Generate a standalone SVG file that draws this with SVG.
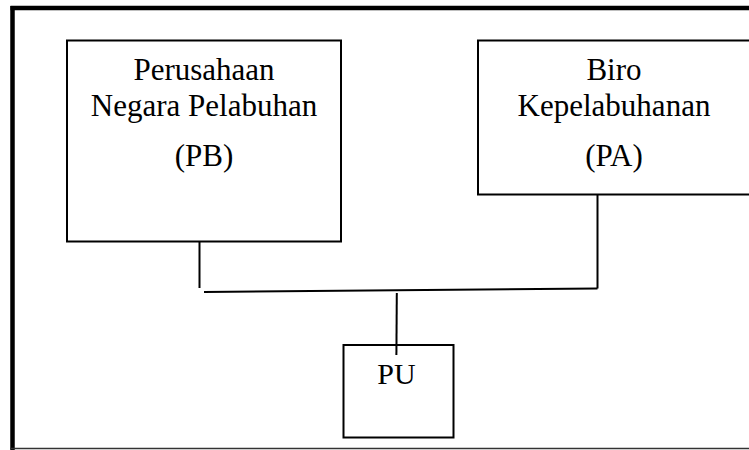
<svg xmlns="http://www.w3.org/2000/svg" width="749" height="450" viewBox="0 0 749 450">
  <style>
    .box { fill: #ffffff; stroke: #000000; stroke-width: 2; }
    .lbl { font-family: "Liberation Serif", "Times New Roman", serif; font-size: 31px; fill: #000000; text-anchor: middle; }
    .con { stroke: #000000; stroke-width: 2; fill: none; }
  </style>
  <rect x="0" y="0" width="749" height="450" fill="#ffffff"/>
  <g id="frame">
    <line x1="10.5" y1="8" x2="749" y2="8" stroke="#000000" stroke-width="4.5"/>
    <line x1="12.5" y1="6" x2="12.5" y2="450" stroke="#000000" stroke-width="4.5"/>
    <line x1="10" y1="448.5" x2="749" y2="448.5" stroke="#333333" stroke-width="1.5"/>
  </g>
  <g id="node-pb">
    <rect class="box" x="67" y="40.5" width="274" height="201"/>
    <text class="lbl" x="204" y="80">Perusahaan</text>
    <text class="lbl" x="204" y="116">Negara Pelabuhan</text>
    <text class="lbl" x="204" y="166">(PB)</text>
  </g>
  <g id="node-pa">
    <rect class="box" x="478" y="40.5" width="274" height="154"/>
    <text class="lbl" x="614" y="80">Biro</text>
    <text class="lbl" x="614" y="116">Kepelabuhanan</text>
    <text class="lbl" x="614" y="166">(PA)</text>
  </g>
  <g id="node-pu">
    <rect class="box" x="343.5" y="345" width="110" height="92.5"/>
    <text class="lbl" x="396.5" y="384" style="font-size:30px">PU</text>
  </g>
  <g id="connectors">
    <line class="con" x1="199.5" y1="241" x2="199.5" y2="288"/>
    <line class="con" x1="597.5" y1="195" x2="597.5" y2="288.5"/>
    <line class="con" x1="204" y1="292" x2="597.5" y2="288.5"/>
    <line class="con" x1="396.8" y1="293" x2="396.4" y2="355"/>
  </g>
</svg>
